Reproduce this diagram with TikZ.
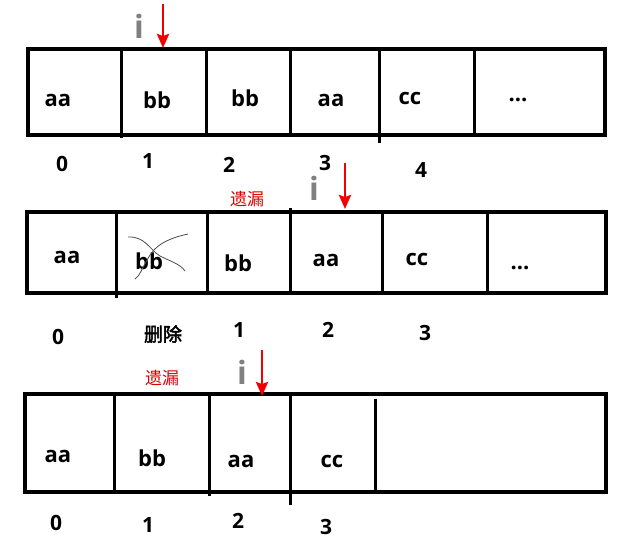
\documentclass[tikz,border=0pt]{standalone}
\usepackage{fontspec}
\setmainfont{Open Sans}
\newfontfamily\cjk[AutoFakeBold=2.5]{Noto Sans CJK SC}
\usetikzlibrary{arrows.meta}
\begin{document}
\begin{tikzpicture}[x=1pt,y=-1pt]
    \tikzstyle{frame} = [ line width=4pt ];
    \tikzstyle{wall} = [ line width=3pt ];
    \tikzstyle{val} = [ font=\bfseries\fontsize{22}{26}\selectfont, inner sep=0pt ];
    \tikzstyle{idx} = [ font=\bfseries\fontsize{21}{25}\selectfont, inner sep=0pt ];
    \tikzstyle{ptr} = [ font=\bfseries\fontsize{32}{36}\selectfont, text=black!50, inner sep=0pt ];
    \tikzstyle{miss} = [ font=\cjk\fontsize{17}{19}\selectfont, text=red!85!black, inner sep=0pt ];
    \tikzstyle{arr} = [ -{Stealth[length=14pt,width=12pt,inset=2pt]}, red!95!black, line width=2.7pt ];
    \tikzstyle{scrawl} = [ line width=0.8pt, black!70 ];

    \useasboundingbox (0,0) rectangle (633,539);

    % first array
    \draw [frame] (28,49) rectangle (605,135);
    \draw [wall] (121,49) -- (121,138);
    \draw [wall] (206,49) -- (206,137);
    \draw [wall] (290,49) -- (290,135);
    \draw [wall] (379,49) -- (379,143);
    \draw [wall] (474,49) -- (474,135);
    \node (nAaA) [val] at (58,100) {aa};
    \node (nBbA) [val] at (157,100) {bb};
    \node (nBbB) [val] at (245,98) {bb};
    \node (nAaB) [val] at (331,100) {aa};
    \node (nCcA) [val] at (410,98) {cc};
    \node (nDotsA) [val] at (518,100) {...};
    \node (nIdxA0) [idx] at (62,164) {0};
    \node (nIdxA1) [idx] at (148,161) {1};
    \node (nIdxA2) [idx] at (229,165) {2};
    \node (nIdxA3) [idx] at (325,163) {3};
    \node (nIdxA4) [idx] at (421,170) {4};
    \node (nPtrA) [ptr] at (139,26) {i};
    \coordinate (cArrTopA) at (163,4);
    \coordinate (cArrEndA) at (163,48);
    \draw [arr] (cArrTopA) -- (cArrEndA);

    % second array, bb removed
    \draw [frame] (27,212) rectangle (606,293);
    \draw [wall] (116,212) -- (116,298);
    \draw [wall] (207,212) -- (207,293);
    \draw [wall] (290,208) -- (290,293);
    \draw [wall] (382,212) -- (382,293);
    \draw [wall] (487,212) -- (487,293);
    \node (nAaC) [val] at (67,257) {aa};
    \node (nBbC) [val] at (149,261) {bb};
    \node (nBbD) [val] at (238,263) {bb};
    \node (nAaD) [val] at (326,260) {aa};
    \node (nCcB) [val] at (417,259) {cc};
    \node (nDotsB) [val] at (520,268) {...};
    \draw [scrawl] (128,237) .. controls (145,236) and (150,250) .. (160,256) .. controls (172,262) and (180,264) .. (185,271);
    \draw [scrawl] (135,279) .. controls (140,276) and (142,268) .. (146,262) .. controls (152,250) and (160,240) .. (188,234);
    \node (nIdxB0) [idx] at (58,337) {0};
    \node (nDel) [idx, font=\cjk\bfseries\fontsize{19}{23}\selectfont] at (163,334) {删除};
    \node (nIdxB1) [idx] at (239,330) {1};
    \node (nIdxB2) [idx] at (328,330) {2};
    \node (nIdxB3) [idx] at (425,333) {3};
    \node (nMissA) [miss] at (247,199) {遗漏};
    \node (nPtrB) [ptr] at (314,188) {i};
    \coordinate (cArrTopB) at (345,163);
    \coordinate (cArrEndB) at (345,209);
    \draw [arr] (cArrTopB) -- (cArrEndB);

    % third array
    \draw [frame] (25,394) rectangle (606,492);
    \draw [wall] (114,394) -- (114,492);
    \draw [wall] (209,394) -- (209,496);
    \draw [wall] (290,394) -- (290,505);
    \draw [wall] (375,399) -- (375,492);
    \node (nAaE) [val] at (58,456) {aa};
    \node (nBbE) [val] at (152,458) {bb};
    \node (nAaF) [val] at (241,461) {aa};
    \node (nCcC) [val] at (332,461) {cc};
    \node (nIdxC0) [idx] at (56,523) {0};
    \node (nIdxC1) [idx] at (148,525) {1};
    \node (nIdxC2) [idx] at (238,521) {2};
    \node (nIdxC3) [idx] at (326,527) {3};
    \node (nMissB) [miss] at (162,378) {遗漏};
    \node (nPtrC) [ptr] at (242,372) {i};
    \coordinate (cArrTopC) at (262,350);
    \coordinate (cArrEndC) at (262,396);
    \draw [arr] (cArrTopC) -- (cArrEndC);
\end{tikzpicture}
\end{document}
